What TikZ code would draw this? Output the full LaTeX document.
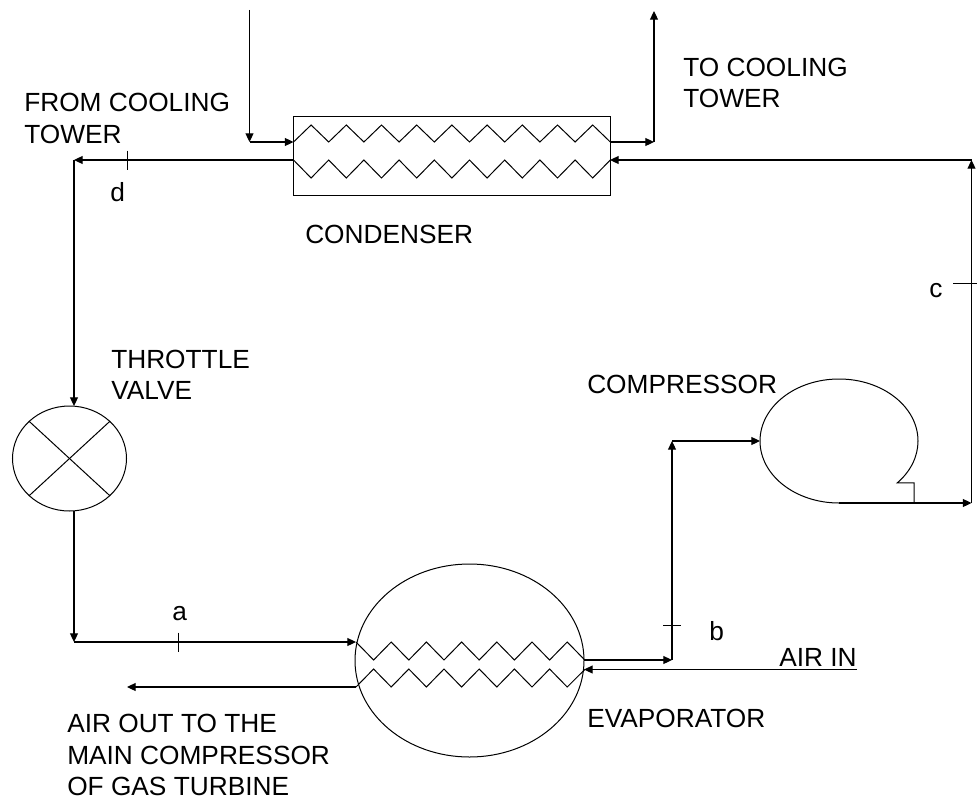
\documentclass[tikz,border=0pt]{standalone}
\usepackage{fontspec}
\setmainfont{Liberation Sans}
\usetikzlibrary{arrows.meta, shapes.geometric}

\tikzset{
  lab/.style={anchor=west, inner sep=0pt, align=left, font=\fontsize{19.7}{23.6}\selectfont},
  pipe/.style={-{Triangle[length=6.5pt,width=6pt]}, line width=0.8pt},
  coil/.style={line width=0.75pt},
  vessel/.style={draw, ellipse, inner sep=0pt, line width=0.75pt},
}

\begin{document}
\begin{tikzpicture}[x=0.75pt, y=-0.75pt]
  \useasboundingbox (0,0) rectangle (977,799);
  % Condenser
  \node[draw, line width=0.75pt, inner sep=0pt, minimum width=237.4pt, minimum height=59.25pt] (cond) at (451.75,155.5) {};
  \coordinate (condin) at (293.5,142);
  \coordinate (condout) at (610,142);
  \coordinate (condrin) at (610,160);
  \coordinate (condrout) at (293.5,160);
  \draw[coil] (condin) foreach \i in {1,...,9} { -- ++(17.6,-17) -- ++(17.6,17) };
  \draw[coil] (condrout) foreach \i in {1,...,9} { -- ++(17.6,18) -- ++(17.6,-18) };
  % Cooling tower water
  \coordinate (watertop) at (249.5,10);
  \coordinate (watercorner) at (249.5,142);
  \coordinate (towercorner) at (654,142);
  \coordinate (towertop) at (654,11);
  \draw[pipe] (watertop) -- (watercorner);
  \draw[pipe] (watercorner) -- (condin);
  \draw[pipe] (condout) -- (towercorner);
  \draw[pipe] (towercorner) -- (towertop);
  % Throttle valve
  \node[vessel, minimum width=85.5pt, minimum height=78.75pt] (valve) at (69.5,458.5) {};
  \draw[coil] (valve.north west) -- (valve.south east);
  \draw[coil] (valve.south west) -- (valve.north east);
  \coordinate (dcorner) at (74,160);
  \coordinate (valvetop) at (74,406);
  \coordinate (valvebot) at (74,511);
  \coordinate (acorner) at (74,642);
  \draw[pipe] (condrout) -- (dcorner);
  \draw[pipe] (dcorner) -- (valvetop);
  \draw[pipe] (valvebot) -- (acorner);
  % Evaporator
  \node[vessel, minimum width=171.75pt, minimum height=144.75pt] (evap) at (469.5,660.5) {};
  \coordinate (evapin) at (356,642);
  \coordinate (evapout) at (584,660);
  \coordinate (airend) at (584,669.5);
  \coordinate (airstart) at (356,687);
  \coordinate (airoutend) at (127,687);
  \coordinate (airinstart) at (857,669.5);
  \draw[coil] (evapin) foreach \i in {1,...,6} { -- ++(17.6,18) -- ++(17.6,-18) } -- ++(17.6,18);
  \draw[coil] (airstart) foreach \i in {1,...,6} { -- ++(17.6,-18) -- ++(17.6,18) } -- ++(17.6,-17.5);
  \draw[pipe] (acorner) -- (evapin);
  \draw[pipe] (airstart) -- (airoutend);
  \draw[pipe] (airinstart) -- (airend);
  % Compressor
  \coordinate (compbot) at (839,503);
  \coordinate (compin) at (760,441);
  \coordinate (bcorner) at (672,660);
  \coordinate (bup) at (672,441);
  \coordinate (ccorner) at (971.5,503);
  \coordinate (ctop) at (971.5,160);
  \draw[coil] (compbot) arc[start angle=270, end angle=-42.6, x radius=59.25pt, y radius=46.5pt]
    -- ++(17,0) -- ++(0,20);
  \draw[pipe] (evapout) -- (bcorner);
  \draw[pipe] (bcorner) -- (bup);
  \draw[pipe] (bup) -- (compin);
  \draw[pipe] (compbot) -- (ccorner);
  \draw[pipe] (ccorner) -- (ctop);
  \draw[pipe] (ctop) -- (condrin);
  % State points
  \coordinate (ticka) at (178,642);
  \coordinate (tickb) at (672,625);
  \coordinate (tickc) at (965,283);
  \coordinate (tickd) at (127,160);
  \draw[coil] (ticka) ++(0,-9.5) -- ++(0,19);
  \draw[coil] (tickb) ++(-9,0) -- ++(18,0);
  \draw[coil] (tickc) ++(-12,0) -- ++(24,0);
  \draw[coil] (tickd) ++(0,-9.5) -- ++(0,19);
  % Labels
  \node[lab] (tolab) at (683,83) {TO COOLING\\TOWER};
  \node[lab] (fromlab) at (24,118.5) {FROM COOLING\\TOWER};
  \node[lab] (condlab) at (305,234) {CONDENSER};
  \node[lab] (throttlelab) at (111,375) {THROTTLE\\VALVE};
  \node[lab] (complab) at (587,384) {COMPRESSOR};
  \node[lab] (evaplab) at (587,718) {EVAPORATOR};
  \node[lab] (airinlab) at (779,657) {AIR IN};
  \node[lab] (airoutlab) at (67,755) {AIR OUT TO THE\\MAIN COMPRESSOR\\OF GAS TURBINE};
  \node[lab] (dlab) at (110,192) {d};
  \node[lab] (alab) at (172,614) {a};
  \node[lab] (blab) at (709,631) {b};
  \node[lab] (clab) at (929,291) {c};
\end{tikzpicture}
\end{document}
